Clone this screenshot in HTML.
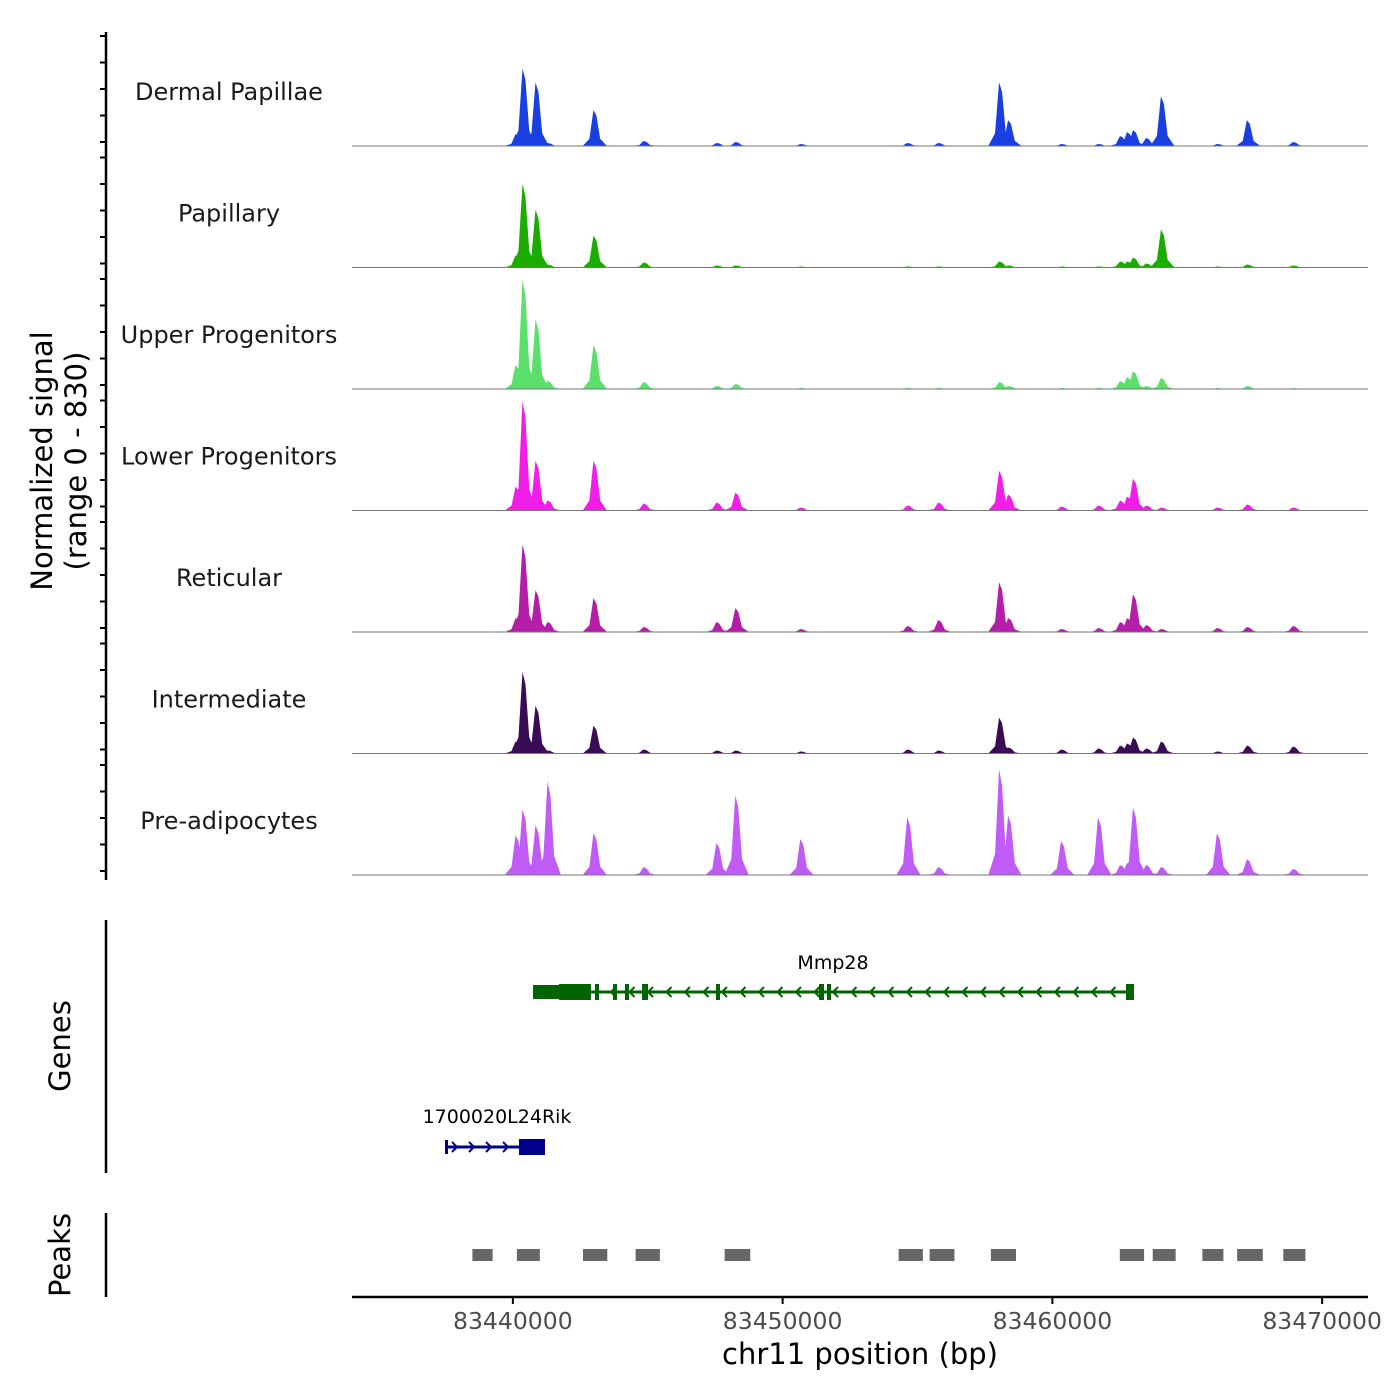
<!DOCTYPE html>
<html><head><meta charset="utf-8"><style>
body{margin:0;background:#fff}
svg{display:block;font-family:"DejaVu Sans","Liberation Sans",sans-serif}
</style></head><body>
<svg id="chart" width="1400" height="1400" viewBox="0 0 1400 1400" xmlns="http://www.w3.org/2000/svg">
<rect width="1400" height="1400" fill="#fff"/>
<g id="tracks"></g>
<g id="axes"></g>
<text transform="translate(52,461) rotate(-90)" text-anchor="middle" font-size="29" fill="#000">Normalized signal</text>
<text transform="translate(86,461) rotate(-90)" text-anchor="middle" font-size="29" fill="#000">(range 0 - 830)</text>
<text transform="translate(70,1046) rotate(-90)" text-anchor="middle" font-size="29" fill="#000">Genes</text>
<text transform="translate(70,1255) rotate(-90)" text-anchor="middle" font-size="29" fill="#000">Peaks</text>
<g id="genes"></g>
<g id="peaks"></g>
<text x="860" y="1364" text-anchor="middle" font-size="29" fill="#000">chr11 position (bp)</text>
</svg>
<script>
const xStart = 83434037, xEnd = 83471700;
const tickValues = [83440000, 83450000, 83460000, 83470000];
const trackNames = ["Dermal Papillae","Papillary","Upper Progenitors","Lower Progenitors","Reticular","Intermediate","Pre-adipocytes"];
const trackColors = ["#1a3fe0","#1aad00","#5ce06c","#f01ee6","#b41ea8","#3a0c56","#c05cf5"];
const peakPositions = [83440148,83440407,83440889,83441333,83443037,83444889,83447593,83448296,83450704,83454667,83455815,83458074,83458407,83460370,83461741,83462556,83462815,83463037,83463518,83464074,83466148,83467259,83468963];
const sigDermal = [84,546,448,21,252,35,21,28,14,21,21,448,182,14,14,70,98,112,56,350,14,182,28];
const sigPapillary = [84,588,406,21,224,35,14,14,7,7,7,42,14,7,7,42,42,70,28,266,7,21,14];
const sigUpper = [168,770,490,56,308,49,21,35,7,7,7,49,21,7,7,56,84,126,21,77,7,21,7];
const sigLower = [168,770,350,70,350,49,56,126,21,35,56,280,112,28,35,70,98,224,35,21,21,42,21];
const sigReticular = [98,616,294,70,238,35,70,168,21,42,84,350,98,21,28,70,98,266,49,21,28,35,42];
const sigIntermediate = [84,574,336,21,196,28,21,21,14,28,21,252,42,28,35,56,70,112,35,84,14,56,49];
const sigPreadipo = [280,462,350,658,294,56,224,560,252,406,56,742,420,238,406,70,84,476,70,56,294,112,42];
const trackSignals = [sigDermal,sigPapillary,sigUpper,sigLower,sigReticular,sigIntermediate,sigPreadipo];
const peakStarts = [83438500,83440150,83442600,83444550,83447850,83454300,83455450,83457720,83462500,83463720,83465560,83466850,83468560];
const peakEnds = [83439250,83441000,83443500,83445450,83448800,83455200,83456370,83458650,83463400,83464570,83466340,83467800,83469380];

const plotL = 352, plotR = 1368, maxSig = 830;
const firstBase = 146, trackStep = 121.5, trackH = 118;
const xs = v => plotL + (v - xStart) / (xEnd - xStart) * (plotR - plotL);
const NS = "http://www.w3.org/2000/svg";
function mk(tag, attrs, parent){const e=document.createElementNS(NS,tag);for(const k in attrs)e.setAttribute(k,attrs[k]);parent.appendChild(e);return e;}
const tracks = document.getElementById('tracks');
const axes = document.getElementById('axes');

trackNames.forEach((name, ti) => {
  const base = firstBase + ti * trackStep;
  const ys = v => base - v / maxSig * trackH;
  const g = mk('g', {}, tracks);
  
  
  const sig = trackSignals[ti];
  peakPositions.forEach((p, i) => {
    const v = sig[i];
    const d = `M${xs(p-450)},${base} L${xs(p-200)},${ys(v*0.2)} L${xs(p-50)},${ys(v)} L${xs(p+60)},${ys(v*0.85)} L${xs(p+200)},${ys(v*0.2)} L${xs(p+450)},${base} Z`;
    const path = mk('path', {d: d, fill: trackColors[ti]}, g);
    
    
  });
  const bl = mk('line', {x1: plotL, x2: plotR, y1: base, y2: base, stroke: '#777', 'stroke-width': 1}, g);
  
  
  const t = mk('text', {x: 229, y: base - 46, 'text-anchor': 'middle', 'font-size': 24, fill: '#1a1a1a'}, g);
  t.textContent = name;
  
  
});

mk('line',{x1:106,x2:106,y1:32,y2:880,stroke:'#000','stroke-width':2.5},axes);
for(let ti=0; ti<7; ti++){
  const base = firstBase + ti*trackStep;
  for(let k=0;k<5;k++){
    const y = base - 4 - k*26.5;
    if (y < 32) continue;
    mk('line',{x1:100,x2:106,y1:y,y2:y,stroke:'#000','stroke-width':2},axes);
  }
}
mk('line',{x1:106,x2:106,y1:920,y2:1173,stroke:'#000','stroke-width':2.5},axes);
mk('line',{x1:106,x2:106,y1:1213,y2:1297,stroke:'#000','stroke-width':2.5},axes);
mk('line',{x1:plotL,x2:plotR,y1:1297,y2:1297,stroke:'#000','stroke-width':2.5},axes);
tickValues.forEach(v=>{
  mk('line',{x1:xs(v),x2:xs(v),y1:1297,y2:1304,stroke:'#000','stroke-width':2},axes);
  const t = mk('text',{x:xs(v),y:1329,'text-anchor':'middle','font-size':23.5,fill:'#4d4d4d'},axes);
  t.textContent = v;
  
  
});

const genes = document.getElementById('genes');
const gc = '#006400';
mk('line',{x1:533,x2:1131,y1:992,y2:992,stroke:gc,'stroke-width':3},genes);
[[533,591,14],[559,591,16],[595,599,16],[613,617,16],[625,629,16],[642,648,16],[716,720,16],[819,824,16],[827,831,16],[1126,1134,16]].forEach(([a,b,h])=>{
  mk('rect',{x:a,y:992-h/2,width:b-a,height:h,fill:gc},genes);
});
for(let x=612;x<1120;x+=18.5){
  mk('path',{d:`M${x+4},${987} L${x-1},${992} L${x+4},${997}`,stroke:gc,'stroke-width':2,fill:'none'},genes);
}
const g1 = mk('text',{x:833,y:969,'text-anchor':'middle','font-size':19,fill:'#000'},genes);
g1.textContent='Mmp28';


const gb='#00008b';
mk('line',{x1:445,x2:545,y1:1147,y2:1147,stroke:gb,'stroke-width':3},genes);
mk('rect',{x:519,y:1139,width:26,height:16,fill:gb},genes);
mk('rect',{x:445,y:1140,width:3,height:14,fill:gb},genes);
for(let x=452;x<515;x+=17){
  mk('path',{d:`M${x},${1142} L${x+5},${1147} L${x},${1152}`,stroke:gb,'stroke-width':2,fill:'none'},genes);
}
const g2 = mk('text',{x:497,y:1123,'text-anchor':'middle','font-size':19,fill:'#000'},genes);
g2.textContent='1700020L24Rik';



const peaks = document.getElementById('peaks');
peakStarts.forEach((s,i)=>{
  const r = mk('rect',{x:xs(s),y:1249,width:xs(peakEnds[i])-xs(s),height:12,fill:'#666'},peaks);
  
  
});
</script>
</body></html>
